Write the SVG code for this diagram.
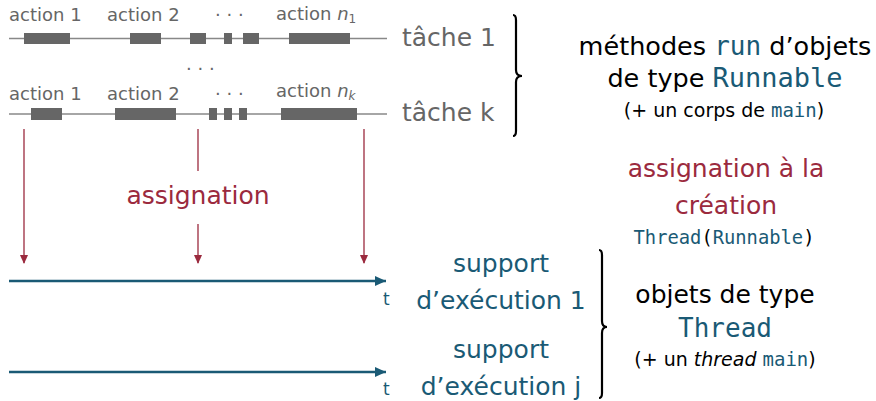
<svg xmlns="http://www.w3.org/2000/svg" width="876" height="401" viewBox="0 0 876 401">
<style>
.s{font-family:"DejaVu Sans","Liberation Sans",sans-serif}
.m{font-family:"DejaVu Sans Mono","Liberation Mono",monospace}
.act{font-size:18px;fill:#666}
.tache{font-size:25px;fill:#666}
.blk{fill:#000}
.teal{fill:#1a5a75}
.red{fill:#9b2a3e}
.box{fill:#666}
.tl{stroke:#888;stroke-width:1.5}
.ra{stroke:#9b2a3e;stroke-width:1.3;fill:none}
.ba{stroke:#1a5a75;stroke-width:2.5;fill:none}
.br{stroke:#000;stroke-width:2.2;fill:none}
</style>
<defs>
<marker id="rh" markerWidth="10" markerHeight="10" refX="8" refY="5" orient="auto" markerUnits="userSpaceOnUse">
<path d="M0,1 L9,5 L0,9 Z" fill="#9b2a3e"/>
</marker>
<marker id="bh" markerWidth="12" markerHeight="12" refX="11" refY="6" orient="auto" markerUnits="userSpaceOnUse">
<path d="M0,1 L11,6 L0,11 Z" fill="#1a5a75"/>
</marker>
</defs>

<g id="tache1">
<text class="s act" x="9" y="21">action 1</text>
<text class="s act" x="107" y="21">action 2</text>
<text class="s act" x="215" y="21">· · ·</text>
<text class="s act" x="276" y="20">action <tspan font-style="italic">n</tspan><tspan font-size="12" dy="3">1</tspan></text>
<line class="tl" x1="9" y1="38.5" x2="387" y2="38.5"/>
<rect class="box" x="24" y="33" width="46" height="11"/>
<rect class="box" x="130" y="33" width="31" height="11"/>
<rect class="box" x="190" y="33" width="16" height="11"/>
<rect class="box" x="224" y="33" width="8" height="11"/>
<rect class="box" x="243" y="33" width="16" height="11"/>
<rect class="box" x="289" y="33" width="61" height="11"/>
<text class="s tache" x="402" y="46">tâche 1</text>
</g>

<g id="tachek">
<text class="s act" x="186" y="75">· · ·</text>
<text class="s act" x="9" y="100">action 1</text>
<text class="s act" x="107" y="100">action 2</text>
<text class="s act" x="215" y="100">· · ·</text>
<text class="s act" x="276" y="97">action <tspan font-style="italic">n</tspan><tspan font-size="12" font-style="italic" dy="3">k</tspan></text>
<line class="tl" x1="9" y1="114" x2="387" y2="114"/>
<rect class="box" x="31" y="108" width="31" height="12"/>
<rect class="box" x="115" y="108" width="61" height="12"/>
<rect class="box" x="209" y="108" width="8" height="12"/>
<rect class="box" x="224" y="108" width="8" height="12"/>
<rect class="box" x="239" y="108" width="8" height="12"/>
<rect class="box" x="281" y="108" width="76" height="12"/>
<text class="s tache" x="402" y="121">tâche k</text>
</g>

<g id="brace1">
<path class="br" d="M513,15 Q516,15 516,20 L516,70 Q516,76 522,76 Q516,76 516,82 L516,131 Q516,136 513,136"/>
</g>

<g id="runnable">
<text class="s blk" x="725" y="55" text-anchor="middle" font-size="25.5">méthodes <tspan class="m teal" font-size="26">run</tspan> d’objets</text>
<text class="s blk" x="725" y="87" text-anchor="middle" font-size="25.5">de type <tspan class="m teal" font-size="27">Runnable</tspan></text>
<text class="s blk" x="724" y="117" text-anchor="middle" font-size="19">(+ un corps de <tspan class="m teal">main</tspan>)</text>
</g>

<g id="assign-creation">
<text class="s red" x="726" y="177" text-anchor="middle" font-size="25">assignation à la</text>
<text class="s red" x="726" y="214" text-anchor="middle" font-size="25">création</text>
<text class="m teal" x="724" y="244" text-anchor="middle" font-size="18.8">Thread<tspan class="blk">(</tspan>Runnable<tspan class="blk">)</tspan></text>
</g>

<g id="connectors">
<line class="ra" x1="24" y1="129" x2="24" y2="263" marker-end="url(#rh)"/>
<line class="ra" x1="198" y1="129" x2="198" y2="171"/>
<line class="ra" x1="198" y1="224" x2="198" y2="263" marker-end="url(#rh)"/>
<line class="ra" x1="364" y1="129" x2="364" y2="263" marker-end="url(#rh)"/>
<line class="ba" x1="9" y1="281" x2="386" y2="281" marker-end="url(#bh)"/>
<line class="ba" x1="9" y1="372" x2="386" y2="372" marker-end="url(#bh)"/>
</g>

<g id="assignation">
<text class="s red" x="198" y="204" text-anchor="middle" font-size="25">assignation</text>
</g>

<g id="support1">
<text class="s teal" x="383" y="305" font-size="17">t</text>
<text class="s teal" x="501" y="272" text-anchor="middle" font-size="25">support</text>
<text class="s teal" x="501" y="309" text-anchor="middle" font-size="25">d’exécution 1</text>
</g>

<g id="supportj">
<text class="s teal" x="383" y="395" font-size="17">t</text>
<text class="s teal" x="501" y="358" text-anchor="middle" font-size="25">support</text>
<text class="s teal" x="501" y="395" text-anchor="middle" font-size="25">d’exécution j</text>
</g>

<g id="brace2">
<path class="br" d="M599,250 Q602,250 602,255 L602,321 Q602,327 607,327 Q602,327 602,333 L602,393 Q602,398 599,398"/>
</g>

<g id="thread">
<text class="s blk" x="725" y="303" text-anchor="middle" font-size="25">objets de type</text>
<text class="m teal" x="725" y="337" text-anchor="middle" font-size="26">Thread</text>
<text class="s blk" x="725" y="366" text-anchor="middle" font-size="19">(+ un <tspan font-style="italic">thread</tspan> <tspan class="m teal">main</tspan>)</text>
</g>
</svg>
